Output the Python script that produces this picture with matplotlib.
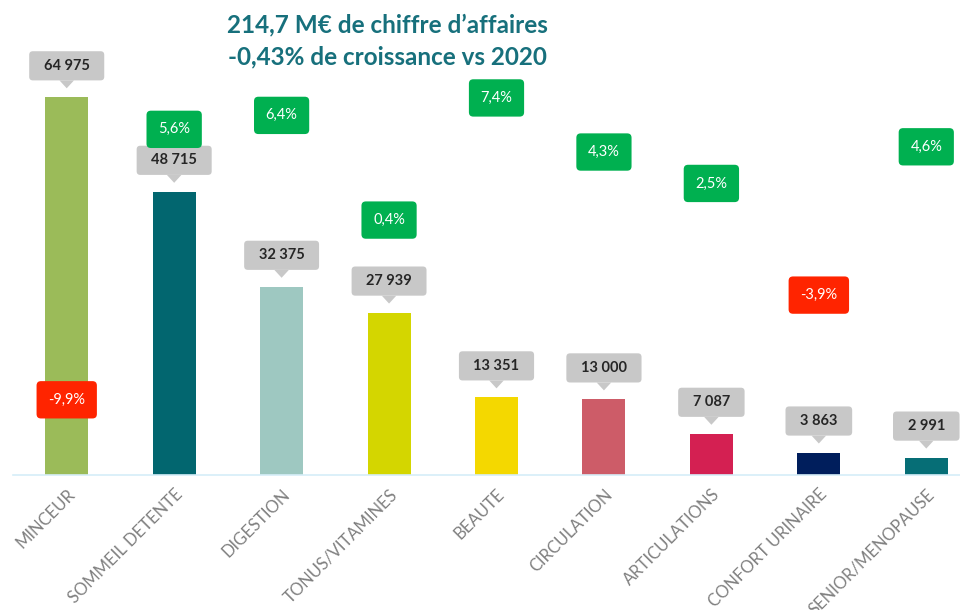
import numpy as np
import matplotlib
matplotlib.use("Agg")
import matplotlib.pyplot as plt

categories = ["MINCEUR", "SOMMEIL DETENTE", "DIGESTION", "TONUS/VITAMINES", "BEAUTE",
              "CIRCULATION", "ARTICULATIONS", "CONFORT URINAIRE", "SENIOR/MENOPAUSE"]
sales = [64975, 48715, 32375, 27939, 13351, 13000, 7087, 3863, 2991]
growth = [-9.9, 5.6, 6.4, 0.4, 7.4, 4.3, 2.5, -3.9, 4.6]
bar_colors = ["#9bbb59", "#02666f", "#9ec8c1", "#d4d600", "#f4d800",
              "#cd5c68", "#d42052", "#001e5c", "#066e76"]

plt.rcParams['font.family'] = ['Lato', 'DejaVu Sans']

fig = plt.figure(figsize=(9.6, 6.1), dpi=100)
# axes runs a bit past the right edge, like the cropped original
ax = fig.add_axes([13/960, 135/610, 967/960, 465/610])
x = np.arange(len(categories))
ax.bar(x, sales, width=0.4, color=bar_colors, zorder=2)
ax.set_xlim(-0.5, len(categories) - 0.5)
ax.set_ylim(0, 80000)

for s in ['top', 'left', 'right']:
    ax.spines[s].set_visible(False)
ax.spines['bottom'].set_color('#d6eef8')
ax.spines['bottom'].set_linewidth(1.2)
ax.set_yticks([])
ax.set_xticks(x)
ax.set_xticklabels(categories, rotation=45, ha='right', rotation_mode='anchor',
                   color='#808080', fontsize=12)
ax.tick_params(axis='x', length=0, pad=8)

# value callouts
for i, v in enumerate(sales):
    lab = "  " + f"{v:,}".replace(",", " ") + "  "
    ax.annotate(lab, xy=(i, v), xytext=(0, 22.7), textcoords='offset points',
                ha='center', va='center', fontsize=10.5, fontweight='bold', color='#262626',
                bbox=dict(boxstyle='round,pad=0.52,rounding_size=0.25', fc='#c8c8c8', ec='none'),
                arrowprops=dict(arrowstyle='wedge,tail_width=1.0', fc='#c8c8c8', ec='none',
                                shrinkA=0, shrinkB=6.5),
                zorder=4)

# growth on a second scale
ax2 = ax.twinx()
ax2.set_ylim(-14.21, 12.44)
ax2.set_axis_off()
for i, g in enumerate(growth):
    fc = '#00b050' if g >= 0 else '#ff2400'
    lab = f"{g:.1f}%".replace(".", ",")
    ax2.text(i, g, lab, ha='center', va='center', fontsize=10.5, color='white',
             bbox=dict(boxstyle='round,pad=0.8,rounding_size=0.3', fc=fc, ec='none'),
             zorder=5)

fig.text(0.404, 0.978, "214,7 M€ de chiffre d’affaires\n-0,43% de croissance vs 2020",
         ha='center', va='top', fontsize=17.5, fontweight='bold', color='#17707c',
         linespacing=1.45)

fig.savefig("out.png", dpi=100)
